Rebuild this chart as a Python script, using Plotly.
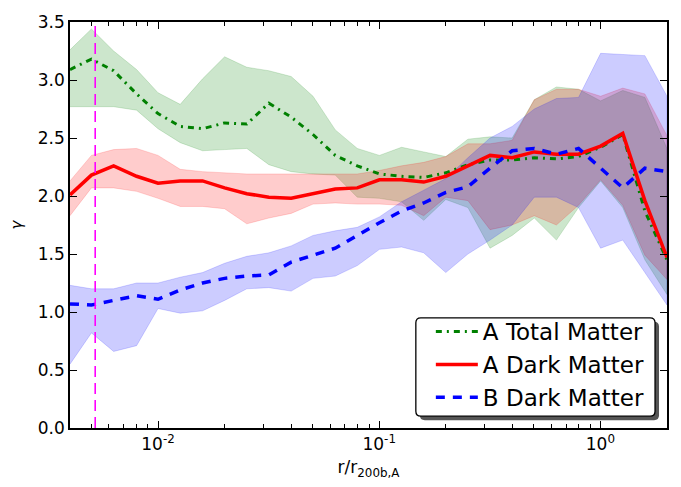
import numpy as np
import plotly.graph_objects as go

# radial bins r / r_200b,A
r_bins = [0.0040, 0.0050, 0.0063, 0.0080, 0.0100, 0.0126, 0.0159, 0.0200,
          0.0252, 0.0317, 0.0400, 0.0502, 0.0633, 0.0796, 0.1002, 0.1262,
          0.1589, 0.2000, 0.2518, 0.3170, 0.3991, 0.5024, 0.6325, 0.7962,
          1.0024, 1.2619, 1.5887, 2.0000]

# A, total matter: median slope and scatter band
a_tot = [3.09, 3.18, 3.08, 2.88, 2.71, 2.60, 2.58, 2.63, 2.62, 2.80, 2.68, 2.53,
         2.35, 2.26, 2.19, 2.17, 2.16, 2.20, 2.27, 2.31, 2.31, 2.33, 2.32, 2.34,
         2.42, 2.53, 1.87, 1.45]
a_tot_hi = [3.26, 3.44, 3.25, 3.09, 2.89, 2.79, 3.01, 3.20, 3.11, 3.08, 3.03, 2.86,
            2.57, 2.41, 2.35, 2.42, 2.38, 2.34, 2.49, 2.51, 2.50, 2.83, 2.94, 2.92,
            2.82, 2.91, 2.85, 2.41]
a_tot_lo = [2.77, 2.77, 2.77, 2.74, 2.58, 2.46, 2.39, 2.40, 2.41, 2.27, 2.21, 2.19,
            2.18, 1.99, 1.98, 1.95, 1.79, 1.97, 1.90, 1.55, 1.66, 1.81, 1.62, 1.90,
            2.13, 1.90, 1.45, 1.15]

# A, dark matter
a_dm = [2.01, 2.18, 2.26, 2.17, 2.11, 2.13, 2.13, 2.07, 2.02, 1.99, 1.98, 2.02,
        2.06, 2.07, 2.14, 2.14, 2.12, 2.17, 2.26, 2.35, 2.33, 2.38, 2.36, 2.36,
        2.43, 2.54, 1.96, 1.47]
a_dm_hi = [2.13, 2.35, 2.40, 2.41, 2.35, 2.23, 2.21, 2.20, 2.19, 2.19, 2.19, 2.19,
           2.19, 2.19, 2.22, 2.26, 2.29, 2.34, 2.45, 2.45, 2.48, 2.83, 2.92, 2.92,
           2.86, 2.93, 2.88, 2.52]
a_dm_lo = [1.83, 2.07, 2.07, 2.04, 1.98, 1.91, 1.91, 1.89, 1.76, 1.81, 1.85, 1.93,
           1.94, 1.93, 1.93, 1.92, 1.83, 1.99, 1.96, 1.71, 1.75, 1.83, 1.75, 1.92,
           2.14, 1.92, 1.49, 1.28]

# B, dark matter
b_dm = [1.07, 1.06, 1.10, 1.14, 1.11, 1.19, 1.25, 1.29, 1.31, 1.32, 1.43, 1.49,
        1.55, 1.66, 1.77, 1.87, 1.94, 2.03, 2.08, 2.24, 2.39, 2.41, 2.36, 2.41,
        2.24, 2.07, 2.24, 2.21]
b_dm_hi = [1.23, 1.20, 1.20, 1.25, 1.25, 1.30, 1.34, 1.42, 1.48, 1.51, 1.57, 1.66,
           1.70, 1.73, 1.82, 1.95, 2.05, 2.15, 2.33, 2.50, 2.60, 2.75, 2.84, 2.85,
           3.23, 3.22, 3.21, 2.86]
b_dm_lo = [0.55, 0.82, 0.66, 0.71, 1.03, 0.99, 1.01, 1.10, 1.20, 1.21, 1.18, 1.29,
           1.31, 1.40, 1.54, 1.56, 1.51, 1.34, 1.50, 1.62, 1.75, 1.99, 1.99, 1.90,
           1.55, 1.62, 1.34, 1.06]

r_soft = 0.0052          # softening scale marker
x_range = [0.004, 2.0]
y_range = [0.0, 3.5]
x_major = [0.01, 0.1, 1.0]
x_major_text = ["10<sup>-2</sup>", "10<sup>-1</sup>", "10<sup>0</sup>"]
x_minor = [m * d for d in (0.001, 0.01, 0.1, 1.0) for m in range(2, 10)]
x_minor = [v for v in x_minor if x_range[0] < v < x_range[1]]

FONT = "DejaVu Sans"
fig = go.Figure()


def band(lo, hi, rgb):
    xs = list(r_bins) + list(r_bins)[::-1]
    ys = list(hi) + list(lo)[::-1]
    fig.add_trace(go.Scatter(
        x=xs, y=ys, mode="lines", fill="toself",
        fillcolor=f"rgba({rgb},0.2)",
        line=dict(color=f"rgba({rgb},0.2)", width=0.8),
        hoverinfo="skip", showlegend=False))


band(a_tot_lo, a_tot_hi, "0,128,0")
band(a_dm_lo, a_dm_hi, "255,0,0")
band(b_dm_lo, b_dm_hi, "0,0,255")

fig.add_trace(go.Scatter(x=r_bins, y=a_tot, mode="lines", name="A Total Matter",
                         line=dict(color="green", width=3, dash="6px,5px,2px,5px")))
fig.add_trace(go.Scatter(x=r_bins, y=a_dm, mode="lines", name="A Dark Matter",
                         line=dict(color="red", width=3.5)))
fig.add_trace(go.Scatter(x=r_bins, y=b_dm, mode="lines", name="B Dark Matter",
                         line=dict(color="blue", width=3.5, dash="9px,8px")))

# vertical marker at the softening radius
fig.add_trace(go.Scatter(x=[r_soft, r_soft], y=y_range, mode="lines",
                         line=dict(color="magenta", width=1.6, dash="11px,6px"),
                         showlegend=False, hoverinfo="skip"))

# legend frame with drop shadow
W, H = 681, 487
ml, mr, mt, mb = 70, 12, 15, 59
pw, ph = W - ml - mr, H - mt - mb


def px2paper(x, y):
    return (x - ml) / pw, (H - mb - y) / ph


def rounded_rect(x0, y0, x1, y1, rad):
    # pixel corners -> paper path with rounded corners
    rx, ry = rad / pw, rad / ph
    X0, Y0 = px2paper(x0, y0)
    X1, Y1 = px2paper(x1, y1)
    return (f"M{X0 + rx},{Y0} L{X1 - rx},{Y0} Q{X1},{Y0} {X1},{Y0 - ry} "
            f"L{X1},{Y1 + ry} Q{X1},{Y1} {X1 - rx},{Y1} L{X0 + rx},{Y1} "
            f"Q{X0},{Y1} {X0},{Y1 + ry} L{X0},{Y0 - ry} Q{X0},{Y0} {X0 + rx},{Y0} Z")


lx0, ly0, lx1, ly1 = 417, 316, 657, 416
fig.add_shape(type="path", xref="paper", yref="paper", layer="above",
              path=rounded_rect(lx0 + 4, ly0 + 4, lx1 + 4, ly1 + 4, 5),
              fillcolor="#555555", line=dict(width=0))
fig.add_shape(type="path", xref="paper", yref="paper", layer="above",
              path=rounded_rect(lx0, ly0, lx1, ly1, 5),
              fillcolor="white", line=dict(color="black", width=1.3))

lgx, lgy = px2paper(lx0, 308)

axis_common = dict(showgrid=False, zeroline=False, showline=True, linecolor="black",
                   linewidth=1.5, mirror="allticks", ticks="inside", ticklen=7,
                   tickwidth=1.2, tickcolor="black",
                   tickfont=dict(family=FONT, size=17, color="black"))

fig.update_layout(
    width=W, height=H,
    margin=dict(l=ml, r=mr, t=mt, b=mb, pad=0),
    paper_bgcolor="white", plot_bgcolor="white",
    font=dict(family=FONT, color="black"),
    xaxis=dict(type="log", range=[np.log10(x_range[0]), np.log10(x_range[1])],
               tickvals=x_major, ticktext=x_major_text,
               minor=dict(tickvals=x_minor, ticks="inside", ticklen=4,
                          tickwidth=1, tickcolor="black"),
               title=dict(text="r/r<sub>200b,A</sub>",
                          font=dict(family=FONT, size=17), standoff=8),
               **axis_common),
    yaxis=dict(range=y_range, dtick=0.5, tickformat=".1f",
               title=dict(text="<i>γ</i>", font=dict(family=FONT, size=15),
                          standoff=12),
               **axis_common),
    legend=dict(x=lgx, y=lgy, xanchor="left", yanchor="top",
                bgcolor="rgba(0,0,0,0)", borderwidth=0,
                font=dict(family=FONT, size=23, color="black"),
                itemwidth=42, indentation=15, tracegroupgap=0),
    showlegend=True,
)

fig.write_html("out.html")
